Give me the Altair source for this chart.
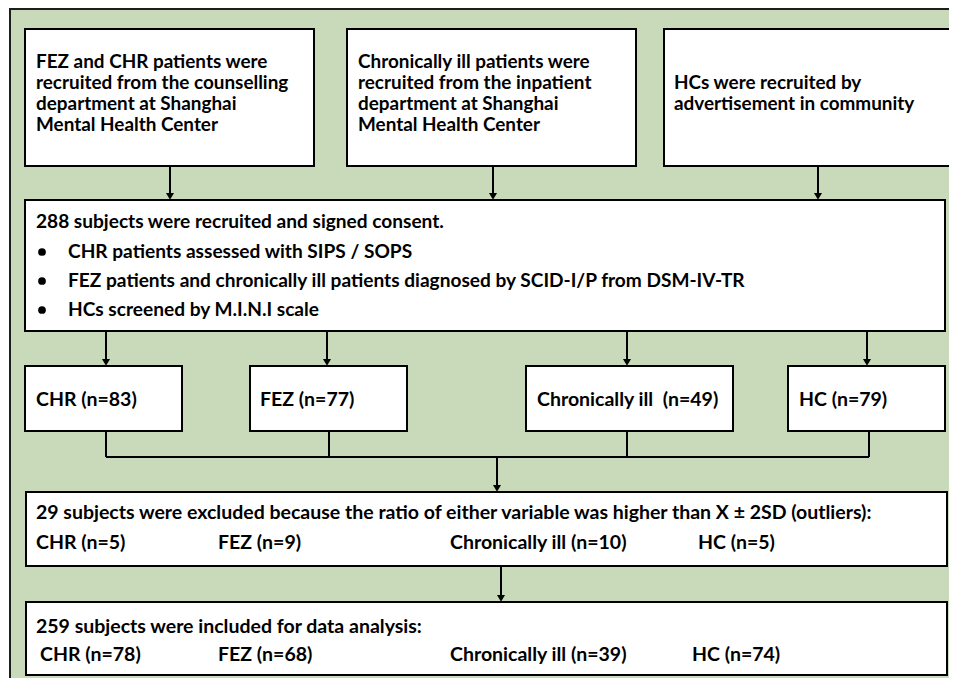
import altair as alt
import pandas as pd

# ---------------- data ----------------
source_lines = [
    ["FEZ and CHR patients were", "recruited from the counselling",
     "department at Shanghai", "Mental Health Center"],
    ["Chronically ill patients were", "recruited from the inpatient",
     "department at Shanghai", "Mental Health Center"],
    ["HCs were recruited by", "advertisement in community"],
]
total_recruited = 288
criteria = [
    "CHR patients assessed with SIPS / SOPS",
    "FEZ patients and chronically ill patients diagnosed by SCID-I/P from DSM-IV-TR",
    "HCs screened by M.I.N.I scale",
]
groups = ["CHR", "FEZ", "Chronically ill", "HC"]
recruited_n = [83, 77, 49, 79]
total_excluded = 29
excluded_n = [5, 9, 10, 5]
total_included = 259
included_n = [78, 68, 39, 74]

# ---------------- layout (pixel positions) ----------------
GREEN = "#C9DABB"
FONT = "Lato"
FS_TOP = 18.9
FS_MID = 19.1
FS_LOW = 19.5

top_box_x = [(25, 314), (347, 636), (664, 953)]
top_box_y = (29, 166)
top_text_x = [36, 358, 674]
top_text_y0 = [62, 62, 83]
line_gap = 21
top_arrow_x = [170, 493, 818]

mid_box = (25, 945, 200, 331)
mid_title_xy = (36, 222)
bullet_x, bullet_text_x = 42, 68
bullet_y = [252, 281, 310]

grp_arrow_x = [106, 327, 627, 867]
grp_box_x = [(25, 182), (250, 407), (526, 733), (788, 945)]
grp_box_y = (366, 431)
grp_text_x = [36, 260, 537, 799]
grp_text_y = 400
grp_conn_x = [106, 329, 627, 869]
join_y = 457
center_x = 497

exc_box = (26, 947, 492, 566)
exc_title_y = 513
exc_row_y = 543
exc_col_x = [36, 218, 450, 698]

inc_arrow_x = 501
inc_box = (26, 947, 602, 675)
inc_title_y = 627
inc_row_y = 655
inc_col_x = [40, 218, 450, 692]

# ---------------- tables ----------------
boxes = []
for (x0, x1) in top_box_x:
    boxes.append(dict(x=x0, x2=x1, y=top_box_y[0], y2=top_box_y[1]))
boxes.append(dict(x=mid_box[0], x2=mid_box[1], y=mid_box[2], y2=mid_box[3]))
for (x0, x1) in grp_box_x:
    boxes.append(dict(x=x0, x2=x1, y=grp_box_y[0], y2=grp_box_y[1]))
boxes.append(dict(x=exc_box[0], x2=exc_box[1], y=exc_box[2], y2=exc_box[3]))
boxes.append(dict(x=inc_box[0], x2=inc_box[1], y=inc_box[2], y2=inc_box[3]))
boxes_df = pd.DataFrame(boxes)

AH = 3.6  # arrowhead half height
segs, heads = [], []
for x in top_arrow_x:
    segs.append(dict(x=x, y=top_box_y[1], x2=x, y2=mid_box[2] - AH))
    heads.append(dict(x=x, y=mid_box[2] - AH))
for x in grp_arrow_x:
    segs.append(dict(x=x, y=mid_box[3], x2=x, y2=grp_box_y[0] - AH))
    heads.append(dict(x=x, y=grp_box_y[0] - AH))
for x in grp_conn_x:
    segs.append(dict(x=x, y=grp_box_y[1], x2=x, y2=join_y))
segs.append(dict(x=grp_conn_x[0], y=join_y, x2=grp_conn_x[-1], y2=join_y))
segs.append(dict(x=center_x, y=join_y, x2=center_x, y2=exc_box[2] - AH))
heads.append(dict(x=center_x, y=exc_box[2] - AH))
segs.append(dict(x=inc_arrow_x, y=exc_box[3], x2=inc_arrow_x, y2=inc_box[2] - AH))
heads.append(dict(x=inc_arrow_x, y=inc_box[2] - AH))
segs_df = pd.DataFrame(segs)
heads_df = pd.DataFrame(heads)

texts = []
for i, lines in enumerate(source_lines):
    for j, ln in enumerate(lines):
        texts.append(dict(x=top_text_x[i], y=top_text_y0[i] + j * line_gap, t=ln, fs=FS_TOP))
texts.append(dict(x=mid_title_xy[0], y=mid_title_xy[1],
                  t=f"{total_recruited} subjects were recruited and signed consent.", fs=FS_MID))
for yy, c in zip(bullet_y, criteria):
    texts.append(dict(x=bullet_text_x, y=yy, t=c, fs=FS_MID))
for g, n, x in zip(groups, recruited_n, grp_text_x):
    sep = "\u00a0 " if g == "Chronically ill" else " "
    texts.append(dict(x=x, y=grp_text_y, t=f"{g}{sep}(n={n})", fs=FS_LOW))
texts.append(dict(x=36, y=exc_title_y,
                  t=f"{total_excluded} subjects were excluded because the ratio of either variable was higher than X \u00b1 2SD (outliers):",
                  fs=FS_LOW))
for g, n, x in zip(groups, excluded_n, exc_col_x):
    texts.append(dict(x=x, y=exc_row_y, t=f"{g} (n={n})", fs=FS_LOW))
texts.append(dict(x=36, y=inc_title_y,
                  t=f"{total_included} subjects were included for data analysis:", fs=FS_LOW))
for g, n, x in zip(groups, included_n, inc_col_x):
    texts.append(dict(x=x, y=inc_row_y, t=f"{g} (n={n})", fs=FS_LOW))
texts_df = pd.DataFrame(texts)

bullets_df = pd.DataFrame(dict(x=[bullet_x] * len(bullet_y), y=bullet_y))
outer_df = pd.DataFrame([dict(x=10, x2=990, y=9, y2=720)])

# ---------------- scales ----------------
W, H = 941, 670
xs = alt.Scale(domain=[8, 8 + W], nice=False, zero=False)
ys = alt.Scale(domain=[8, 8 + H], nice=False, zero=False, reverse=True)
X = lambda f="x": alt.X(f, type="quantitative", scale=xs, axis=None)
Y = lambda f="y": alt.Y(f, type="quantitative", scale=ys, axis=None)

outer = alt.Chart(outer_df).mark_rect(
    fill=GREEN, stroke="#1e1e1e", strokeWidth=2, clip=True
).encode(x=X(), x2="x2", y=Y(), y2="y2")

box_layer = alt.Chart(boxes_df).mark_rect(
    fill="white", stroke="black", strokeWidth=2
).encode(x=X(), x2="x2", y=Y(), y2="y2")

seg_layer = alt.Chart(segs_df).mark_rule(
    color="black", strokeWidth=2
).encode(x=X(), x2="x2", y=Y(), y2="y2")

head_layer = alt.Chart(heads_df).mark_point(
    shape="triangle-down", filled=True, color="black", size=64, opacity=1
).encode(x=X(), y=Y())

bullet_layer = alt.Chart(bullets_df).mark_circle(
    color="black", size=60, opacity=1
).encode(x=X(), y=Y())

text_layer = alt.Chart(texts_df).mark_text(
    align="left", baseline="middle", font=FONT,
    fontWeight="bold", color="black"
).encode(
    x=X(), y=Y(), text="t:N",
    size=alt.Size("fs:Q", scale=None, legend=None),
)

chart = alt.layer(
    outer, box_layer, seg_layer, head_layer, bullet_layer, text_layer
).properties(
    width=W, height=H, padding=0, autosize=alt.AutoSizeParams(type="none"),
    background="white"
).configure_view(stroke=None)

chart.save("out.html", embed_options={"renderer": "svg", "actions": False})
